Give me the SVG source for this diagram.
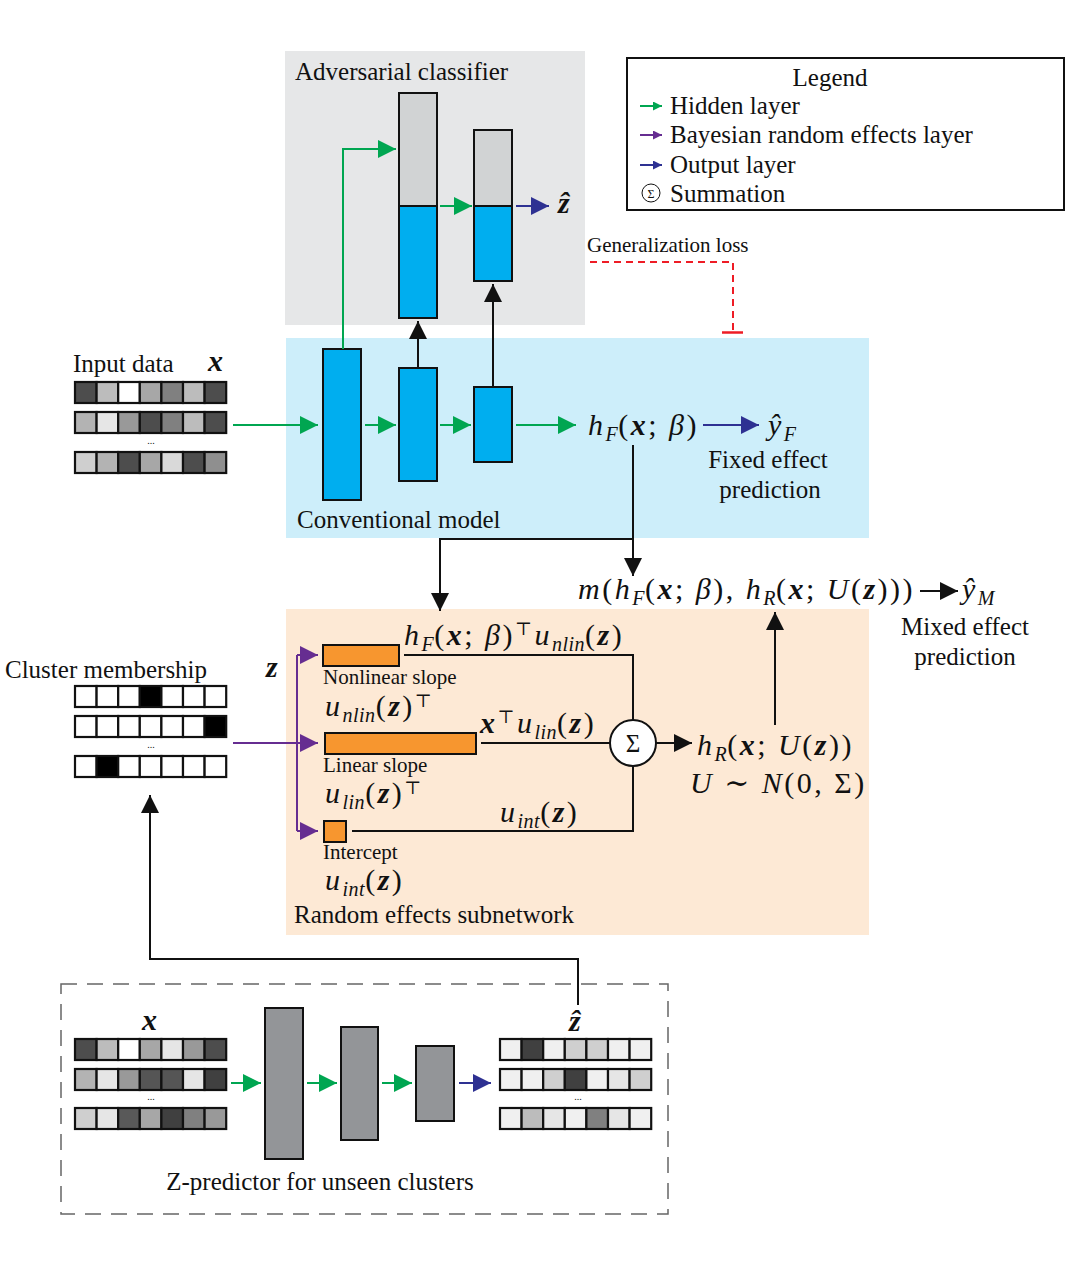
<svg xmlns="http://www.w3.org/2000/svg" width="1075" height="1266" viewBox="0 0 1075 1266">
<style>
.t{font-family:"Liberation Serif","DejaVu Serif",serif;fill:#111;}
.m{font-family:"Liberation Serif","DejaVu Serif",serif;fill:#111;font-size:30px;letter-spacing:2.5px;}
.i{font-style:italic;}
.b{font-style:italic;font-weight:bold;}
.s{font-style:italic;font-size:20px;letter-spacing:0.5px;}
.bar{stroke:#111;stroke-width:2;}
.cell{stroke:#111;stroke-width:2.2;}
.cg{stroke:#00a651;stroke-width:2;fill:none;}
.cp{stroke:#662d91;stroke-width:2;fill:none;}
.cb{stroke:#2e3192;stroke-width:2;fill:none;}
.ck{stroke:#111;stroke-width:2;fill:none;}
</style>
<defs>
<marker id="ag" viewBox="0 0 10 10" refX="10" refY="5" markerWidth="18" markerHeight="18" markerUnits="userSpaceOnUse" orient="auto"><path d="M0,0L10,5L0,10z" fill="#00a651"/></marker>
<marker id="ap" viewBox="0 0 10 10" refX="10" refY="5" markerWidth="18" markerHeight="18" markerUnits="userSpaceOnUse" orient="auto"><path d="M0,0L10,5L0,10z" fill="#662d91"/></marker>
<marker id="ab" viewBox="0 0 10 10" refX="10" refY="5" markerWidth="18" markerHeight="18" markerUnits="userSpaceOnUse" orient="auto"><path d="M0,0L10,5L0,10z" fill="#2e3192"/></marker>
<marker id="ak" viewBox="0 0 10 10" refX="10" refY="5" markerWidth="18" markerHeight="18" markerUnits="userSpaceOnUse" orient="auto"><path d="M0,0L10,5L0,10z" fill="#111"/></marker>
<marker id="sg" viewBox="0 0 10 10" refX="10" refY="5" markerWidth="9" markerHeight="9" markerUnits="userSpaceOnUse" orient="auto"><path d="M0,0L10,5L0,10z" fill="#00a651"/></marker>
<marker id="sp" viewBox="0 0 10 10" refX="10" refY="5" markerWidth="9" markerHeight="9" markerUnits="userSpaceOnUse" orient="auto"><path d="M0,0L10,5L0,10z" fill="#662d91"/></marker>
<marker id="sb" viewBox="0 0 10 10" refX="10" refY="5" markerWidth="9" markerHeight="9" markerUnits="userSpaceOnUse" orient="auto"><path d="M0,0L10,5L0,10z" fill="#2e3192"/></marker>
</defs>
<rect width="1075" height="1266" fill="#fff"/>

<g id="adversarial-classifier">
<rect x="285" y="51" width="300" height="274" fill="#e6e7e8"/>
<text class="t" x="295" y="80" font-size="25">Adversarial classifier</text>
<rect class="bar" x="399" y="93" width="38" height="113" fill="#d1d3d4"/>
<rect class="bar" x="399" y="206" width="38" height="112" fill="#00aeef"/>
<rect class="bar" x="474" y="130" width="38" height="76" fill="#d1d3d4"/>
<rect class="bar" x="474" y="206" width="38" height="75" fill="#00aeef"/>
<text class="m" x="558" y="213" font-size="27"><tspan class="b">ẑ</tspan></text>
</g>

<g id="conventional-model">
<rect x="286" y="338" width="583" height="200" fill="#cdeefa"/>
<rect class="bar" x="323" y="349" width="38" height="151" fill="#00aeef"/>
<rect class="bar" x="399" y="368" width="38" height="113" fill="#00aeef"/>
<rect class="bar" x="474" y="387" width="38" height="75" fill="#00aeef"/>
<text class="t" x="297" y="528" font-size="25">Conventional model</text>
<text class="m" x="588" y="435"><tspan class="i">h</tspan><tspan class="s" dy="6">F</tspan><tspan dy="-6">(</tspan><tspan class="b">x</tspan>; <tspan class="i">β</tspan>)</text>
<text class="m" x="768" y="435"><tspan class="i">ŷ</tspan><tspan class="s" dy="6">F</tspan></text>
<text class="t" x="768" y="468" font-size="25" text-anchor="middle">Fixed effect</text>
<text class="t" x="770" y="498" font-size="25" text-anchor="middle">prediction</text>
</g>

<g id="random-effects-subnetwork">
<rect x="286" y="609" width="583" height="326" fill="#fde9d5"/>
<rect class="bar" x="323" y="645" width="76" height="21" fill="#f7962f"/>
<rect class="bar" x="325" y="733" width="151" height="21" fill="#f7962f"/>
<rect class="bar" x="324" y="821" width="22" height="21" fill="#f7962f"/>
<text class="t" x="323" y="684" font-size="21">Nonlinear slope</text>
<text class="m" x="325" y="716"><tspan class="i">u</tspan><tspan class="s" dy="6">nlin</tspan><tspan dy="-6">(</tspan><tspan class="b">z</tspan>)<tspan font-size="18" dy="-9">⊤</tspan></text>
<text class="t" x="323" y="772" font-size="21">Linear slope</text>
<text class="m" x="325" y="803"><tspan class="i">u</tspan><tspan class="s" dy="6">lin</tspan><tspan dy="-6">(</tspan><tspan class="b">z</tspan>)<tspan font-size="18" dy="-9">⊤</tspan></text>
<text class="t" x="323" y="859" font-size="21">Intercept</text>
<text class="m" x="325" y="890"><tspan class="i">u</tspan><tspan class="s" dy="6">int</tspan><tspan dy="-6">(</tspan><tspan class="b">z</tspan>)</text>
<text class="t" x="294" y="923" font-size="25">Random effects subnetwork</text>
<text class="m" x="404" y="645"><tspan class="i">h</tspan><tspan class="s" dy="6">F</tspan><tspan dy="-6">(</tspan><tspan class="b">x</tspan>; <tspan class="i">β</tspan>)<tspan font-size="18" dy="-10">⊤</tspan><tspan class="i" dy="10">u</tspan><tspan class="s" dy="6">nlin</tspan><tspan dy="-6">(</tspan><tspan class="b">z</tspan>)</text>
<text class="m" x="480" y="733"><tspan class="b">x</tspan><tspan font-size="18" dy="-10">⊤</tspan><tspan class="i" dy="10">u</tspan><tspan class="s" dy="6">lin</tspan><tspan dy="-6">(</tspan><tspan class="b">z</tspan>)</text>
<text class="m" x="500" y="822"><tspan class="i">u</tspan><tspan class="s" dy="6">int</tspan><tspan dy="-6">(</tspan><tspan class="b">z</tspan>)</text>
<text class="m" x="697" y="755"><tspan class="i">h</tspan><tspan class="s" dy="6">R</tspan><tspan dy="-6">(</tspan><tspan class="b">x</tspan>; <tspan class="i">U</tspan>(<tspan class="b">z</tspan>))</text>
<text class="m" x="690" y="793"><tspan class="i">U</tspan> ∼ <tspan class="i">N</tspan>(0, Σ)</text>
</g>

<g id="summation">
<circle cx="633" cy="743" r="23" fill="#fff" stroke="#111" stroke-width="2"/>
<text class="t" x="633" y="752" font-size="25" text-anchor="middle">Σ</text>
</g>

<g id="mixed-effect">
<text class="m" x="578" y="599"><tspan class="i">m</tspan>(<tspan class="i">h</tspan><tspan class="s" dy="6">F</tspan><tspan dy="-6">(</tspan><tspan class="b">x</tspan>; <tspan class="i">β</tspan>), <tspan class="i">h</tspan><tspan class="s" dy="6">R</tspan><tspan dy="-6">(</tspan><tspan class="b">x</tspan>; <tspan class="i">U</tspan>(<tspan class="b">z</tspan>)))</text>
<text class="m" x="962" y="599"><tspan class="i">ŷ</tspan><tspan class="s" dy="6">M</tspan></text>
<text class="t" x="965" y="635" font-size="25" text-anchor="middle">Mixed effect</text>
<text class="t" x="965" y="665" font-size="25" text-anchor="middle">prediction</text>
</g>

<g id="input-data">
<text class="t" x="73" y="372" font-size="25">Input data</text>
<text class="m" x="208" y="371" font-size="27"><tspan class="b">x</tspan></text>
<g class="cell">
<rect x="75" y="382" width="21.6" height="21" fill="#4d4d4d"/><rect x="96.6" y="382" width="21.6" height="21" fill="#bcbcbc"/><rect x="118.2" y="382" width="21.6" height="21" fill="#fff"/><rect x="139.8" y="382" width="21.6" height="21" fill="#a7a7a7"/><rect x="161.4" y="382" width="21.6" height="21" fill="#808080"/><rect x="183" y="382" width="21.6" height="21" fill="#bcbcbc"/><rect x="204.6" y="382" width="21.6" height="21" fill="#4d4d4d"/>
<rect x="75" y="412" width="21.6" height="21" fill="#b3b3b3"/><rect x="96.6" y="412" width="21.6" height="21" fill="#e6e6e6"/><rect x="118.2" y="412" width="21.6" height="21" fill="#999"/><rect x="139.8" y="412" width="21.6" height="21" fill="#4d4d4d"/><rect x="161.4" y="412" width="21.6" height="21" fill="#808080"/><rect x="183" y="412" width="21.6" height="21" fill="#bcbcbc"/><rect x="204.6" y="412" width="21.6" height="21" fill="#4d4d4d"/>
<rect x="75" y="452" width="21.6" height="21" fill="#cfcfcf"/><rect x="96.6" y="452" width="21.6" height="21" fill="#b3b3b3"/><rect x="118.2" y="452" width="21.6" height="21" fill="#4d4d4d"/><rect x="139.8" y="452" width="21.6" height="21" fill="#a7a7a7"/><rect x="161.4" y="452" width="21.6" height="21" fill="#d9d9d9"/><rect x="183" y="452" width="21.6" height="21" fill="#4d4d4d"/><rect x="204.6" y="452" width="21.6" height="21" fill="#8f8f8f"/>
</g>
<text class="t" x="151" y="444" font-size="10" text-anchor="middle">...</text>
</g>

<g id="cluster-membership">
<text class="t" x="5" y="678" font-size="25">Cluster membership</text>
<text class="m" x="266" y="677" font-size="27"><tspan class="b">z</tspan></text>
<g class="cell">
<rect x="75" y="686" width="21.6" height="21" fill="#fff"/><rect x="96.6" y="686" width="21.6" height="21" fill="#fff"/><rect x="118.2" y="686" width="21.6" height="21" fill="#fff"/><rect x="139.8" y="686" width="21.6" height="21" fill="#000"/><rect x="161.4" y="686" width="21.6" height="21" fill="#fff"/><rect x="183" y="686" width="21.6" height="21" fill="#fff"/><rect x="204.6" y="686" width="21.6" height="21" fill="#fff"/>
<rect x="75" y="716" width="21.6" height="21" fill="#fff"/><rect x="96.6" y="716" width="21.6" height="21" fill="#fff"/><rect x="118.2" y="716" width="21.6" height="21" fill="#fff"/><rect x="139.8" y="716" width="21.6" height="21" fill="#fff"/><rect x="161.4" y="716" width="21.6" height="21" fill="#fff"/><rect x="183" y="716" width="21.6" height="21" fill="#fff"/><rect x="204.6" y="716" width="21.6" height="21" fill="#000"/>
<rect x="75" y="756" width="21.6" height="21" fill="#fff"/><rect x="96.6" y="756" width="21.6" height="21" fill="#000"/><rect x="118.2" y="756" width="21.6" height="21" fill="#fff"/><rect x="139.8" y="756" width="21.6" height="21" fill="#fff"/><rect x="161.4" y="756" width="21.6" height="21" fill="#fff"/><rect x="183" y="756" width="21.6" height="21" fill="#fff"/><rect x="204.6" y="756" width="21.6" height="21" fill="#fff"/>
</g>
<text class="t" x="151" y="748" font-size="10" text-anchor="middle">...</text>
</g>

<g id="z-predictor">
<rect x="61" y="984" width="607" height="230" fill="none" stroke="#666" stroke-width="1.5" stroke-dasharray="16,10"/>
<text class="m" x="142" y="1030" font-size="27"><tspan class="b">x</tspan></text>
<g class="cell">
<rect x="75" y="1039" width="21.6" height="21" fill="#4d4d4d"/><rect x="96.6" y="1039" width="21.6" height="21" fill="#bcbcbc"/><rect x="118.2" y="1039" width="21.6" height="21" fill="#fff"/><rect x="139.8" y="1039" width="21.6" height="21" fill="#a7a7a7"/><rect x="161.4" y="1039" width="21.6" height="21" fill="#e6e6e6"/><rect x="183" y="1039" width="21.6" height="21" fill="#999"/><rect x="204.6" y="1039" width="21.6" height="21" fill="#4d4d4d"/>
<rect x="75" y="1069" width="21.6" height="21" fill="#b3b3b3"/><rect x="96.6" y="1069" width="21.6" height="21" fill="#e6e6e6"/><rect x="118.2" y="1069" width="21.6" height="21" fill="#999"/><rect x="139.8" y="1069" width="21.6" height="21" fill="#555"/><rect x="161.4" y="1069" width="21.6" height="21" fill="#555"/><rect x="183" y="1069" width="21.6" height="21" fill="#e6e6e6"/><rect x="204.6" y="1069" width="21.6" height="21" fill="#404040"/>
<rect x="75" y="1108" width="21.6" height="21" fill="#cfcfcf"/><rect x="96.6" y="1108" width="21.6" height="21" fill="#e6e6e6"/><rect x="118.2" y="1108" width="21.6" height="21" fill="#595959"/><rect x="139.8" y="1108" width="21.6" height="21" fill="#a7a7a7"/><rect x="161.4" y="1108" width="21.6" height="21" fill="#404040"/><rect x="183" y="1108" width="21.6" height="21" fill="#808080"/><rect x="204.6" y="1108" width="21.6" height="21" fill="#999"/>
</g>
<text class="t" x="151" y="1100" font-size="10" text-anchor="middle">...</text>
<rect class="bar" x="265" y="1008" width="38" height="151" fill="#939598"/>
<rect class="bar" x="341" y="1027" width="37" height="113" fill="#939598"/>
<rect class="bar" x="416" y="1046" width="38" height="75" fill="#939598"/>
<text class="m" x="569" y="1031" font-size="27"><tspan class="b">ẑ</tspan></text>
<g class="cell">
<rect x="500" y="1039" width="21.6" height="21" fill="#f0f0f0"/><rect x="521.6" y="1039" width="21.6" height="21" fill="#404040"/><rect x="543.2" y="1039" width="21.6" height="21" fill="#f0f0f0"/><rect x="564.8" y="1039" width="21.6" height="21" fill="#cfcfcf"/><rect x="586.4" y="1039" width="21.6" height="21" fill="#cfcfcf"/><rect x="608" y="1039" width="21.6" height="21" fill="#f0f0f0"/><rect x="629.6" y="1039" width="21.6" height="21" fill="#f0f0f0"/>
<rect x="500" y="1069" width="21.6" height="21" fill="#f0f0f0"/><rect x="521.6" y="1069" width="21.6" height="21" fill="#f0f0f0"/><rect x="543.2" y="1069" width="21.6" height="21" fill="#cfcfcf"/><rect x="564.8" y="1069" width="21.6" height="21" fill="#404040"/><rect x="586.4" y="1069" width="21.6" height="21" fill="#f0f0f0"/><rect x="608" y="1069" width="21.6" height="21" fill="#e6e6e6"/><rect x="629.6" y="1069" width="21.6" height="21" fill="#cfcfcf"/>
<rect x="500" y="1108" width="21.6" height="21" fill="#f0f0f0"/><rect x="521.6" y="1108" width="21.6" height="21" fill="#bcbcbc"/><rect x="543.2" y="1108" width="21.6" height="21" fill="#e6e6e6"/><rect x="564.8" y="1108" width="21.6" height="21" fill="#f0f0f0"/><rect x="586.4" y="1108" width="21.6" height="21" fill="#808080"/><rect x="608" y="1108" width="21.6" height="21" fill="#e6e6e6"/><rect x="629.6" y="1108" width="21.6" height="21" fill="#f0f0f0"/>
</g>
<text class="t" x="578" y="1100" font-size="10" text-anchor="middle">...</text>
<text class="t" x="320" y="1190" font-size="25" text-anchor="middle">Z-predictor for unseen clusters</text>
</g>

<g id="legend">
<rect x="627" y="58" width="437" height="152" fill="#fff" stroke="#111" stroke-width="2"/>
<text class="t" x="830" y="86" font-size="25" text-anchor="middle">Legend</text>
<line class="cg" x1="640" y1="106" x2="662" y2="106" marker-end="url(#sg)"/>
<text class="t" x="670" y="114" font-size="25">Hidden layer</text>
<line class="cp" x1="640" y1="135" x2="662" y2="135" marker-end="url(#sp)"/>
<text class="t" x="670" y="143" font-size="25">Bayesian random effects layer</text>
<line class="cb" x1="640" y1="165" x2="662" y2="165" marker-end="url(#sb)"/>
<text class="t" x="670" y="173" font-size="25">Output layer</text>
<circle cx="651" cy="193" r="9" fill="#fff" stroke="#111" stroke-width="1"/>
<text class="t" x="651" y="197.5" font-size="12" text-anchor="middle">Σ</text>
<text class="t" x="670" y="202" font-size="25">Summation</text>
</g>

<g id="generalization-loss">
<text class="t" x="587" y="252" font-size="21">Generalization loss</text>
</g>

<g id="connectors">
<line class="cg" x1="233" y1="425" x2="318" y2="425" marker-end="url(#ag)"/>
<line class="cg" x1="365" y1="425" x2="396" y2="425" marker-end="url(#ag)"/>
<line class="cg" x1="440" y1="425" x2="471" y2="425" marker-end="url(#ag)"/>
<line class="cg" x1="516" y1="425" x2="576" y2="425" marker-end="url(#ag)"/>
<path class="cg" d="M343,349V149H396" marker-end="url(#ag)"/>
<line class="cg" x1="440" y1="206" x2="472" y2="206" marker-end="url(#ag)"/>
<line class="cg" x1="231" y1="1083" x2="261" y2="1083" marker-end="url(#ag)"/>
<line class="cg" x1="307" y1="1083" x2="337" y2="1083" marker-end="url(#ag)"/>
<line class="cg" x1="382" y1="1083" x2="412" y2="1083" marker-end="url(#ag)"/>
<line class="cb" x1="516" y1="206" x2="549" y2="206" marker-end="url(#ab)"/>
<line class="cb" x1="703" y1="425" x2="759" y2="425" marker-end="url(#ab)"/>
<line class="cb" x1="459" y1="1083" x2="491" y2="1083" marker-end="url(#ab)"/>
<line class="ck" x1="418" y1="368" x2="418" y2="321" marker-end="url(#ak)"/>
<line class="ck" x1="493" y1="387" x2="493" y2="284" marker-end="url(#ak)"/>
<line class="ck" x1="633" y1="445" x2="633" y2="576" marker-end="url(#ak)"/>
<path class="ck" d="M633,539H440V611" marker-end="url(#ak)"/>
<line class="ck" x1="920" y1="591" x2="958" y2="591" marker-end="url(#ak)"/>
<line class="ck" x1="775" y1="725" x2="775" y2="612" marker-end="url(#ak)"/>
<line class="ck" x1="656" y1="743" x2="692" y2="743" marker-end="url(#ak)"/>
<path class="ck" d="M404,655H633V720"/>
<line class="ck" x1="481" y1="743" x2="610" y2="743"/>
<path class="ck" d="M352,831H633V766"/>
<path class="ck" d="M578,1005V959H150V795" marker-end="url(#ak)"/>
<line class="cp" x1="233" y1="743" x2="297" y2="743"/>
<path class="cp" d="M297,655V831"/>
<line class="cp" x1="297" y1="655" x2="318" y2="655" marker-end="url(#ap)"/>
<line class="cp" x1="297" y1="743" x2="318" y2="743" marker-end="url(#ap)"/>
<line class="cp" x1="297" y1="831" x2="318" y2="831" marker-end="url(#ap)"/>
<path d="M590,262H733V332" fill="none" stroke="#ee1c25" stroke-width="2" stroke-dasharray="7,5"/>
<line x1="722" y1="332.5" x2="743" y2="332.5" stroke="#ee1c25" stroke-width="2.5"/>
</g>
</svg>
